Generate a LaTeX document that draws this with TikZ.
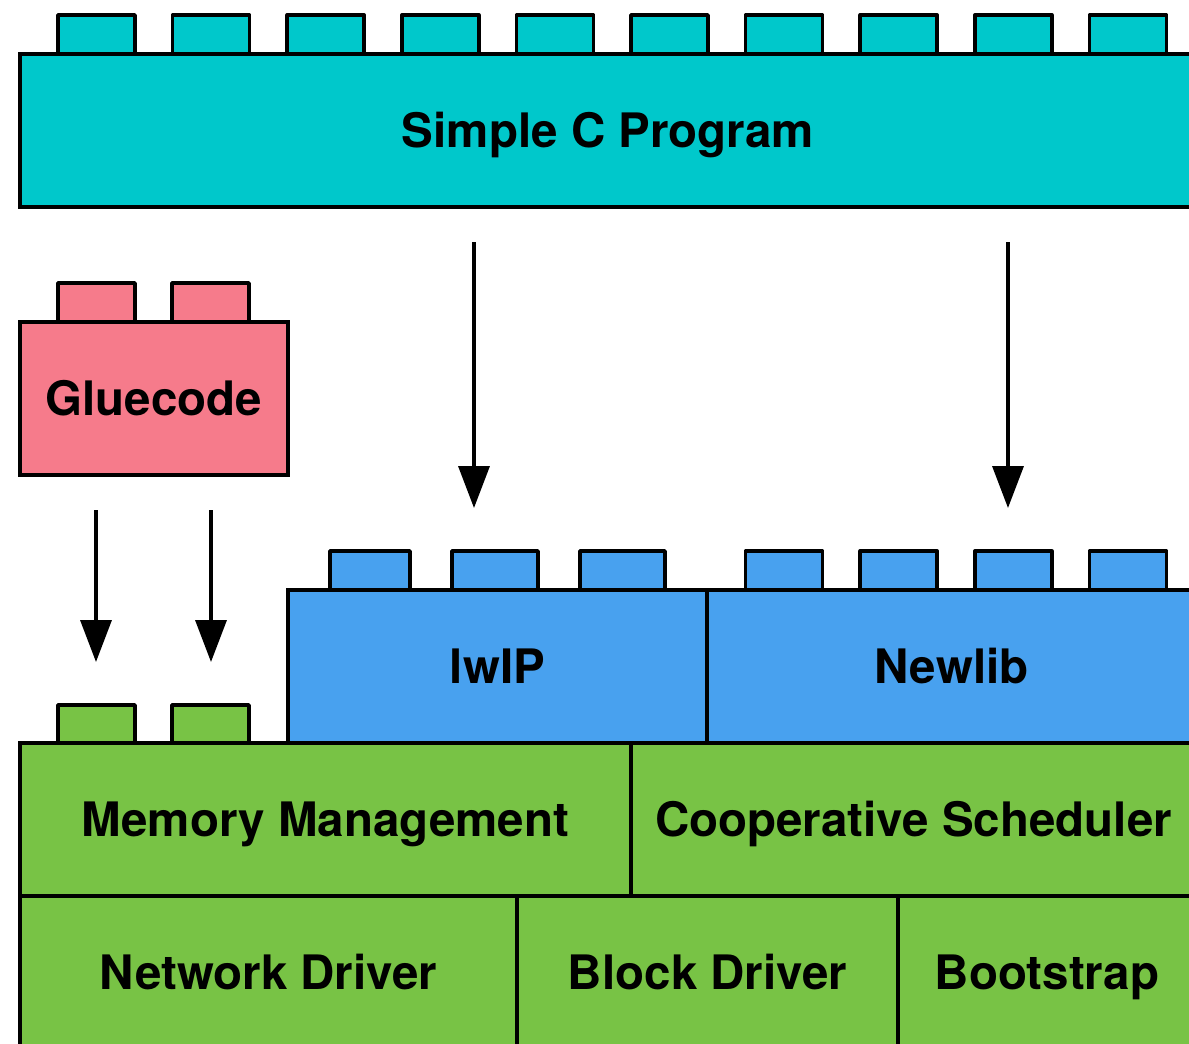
\documentclass[tikz,border=0pt]{standalone}
\usepackage{fontspec}
\setmainfont{TeX Gyre Heros}
\usepackage{tikz}
\usetikzlibrary{calc}
\usetikzlibrary{arrows.meta}
\definecolor{progcyan}{RGB}{0,200,203}
\definecolor{gluepink}{RGB}{246,123,139}
\definecolor{libblue}{RGB}{72,161,239}
\definecolor{basegreen}{RGB}{120,195,69}
\newcommand{\stud}[5]{\filldraw[#5, draw=black, line width=3.5pt, line join=round] ( #1 , #2 ) rectangle ( #3 , #4 );}
\newcommand{\brick}[7]{\node[brick, fill=#5, minimum width={#3-#1}, minimum height={#4-#2}] (#6) at ({(#1+#3)/2},{(#2+#4)/2}) {#7};}
\tikzset{
  brick/.style={draw, line width=3.5pt, inner sep=0pt, outer sep=0pt, text=black,
    text height=33pt, text depth=0pt, font=\fontsize{47.5}{52}\selectfont\bfseries},
  uses/.style={line width=3.5pt, -{Triangle[width=31pt,length=42pt]}},
}

\begin{document}
\begin{tikzpicture}[x=1pt, y=-1pt]
    \clip (0,0) rectangle (1189,1044);

    \foreach \i in {0,...,9} { \( \stud{58+114.6*\i}{15}{135+114.6*\i}{54}{progcyan} \); }
    \( \stud{58}{283}{135}{322}{gluepink} \);
    \( \stud{172}{283}{249}{322}{gluepink} \);
    \( \stud{330}{551}{410}{590}{libblue} \);
    \( \stud{452}{551}{538}{590}{libblue} \);
    \( \stud{580}{551}{665}{590}{libblue} \);
    \foreach \i in {6,...,9} { \( \stud{58+114.6*\i}{551}{135+114.6*\i}{590}{libblue} \); }
    \( \stud{58}{705}{135}{743}{basegreen} \);
    \( \stud{172}{705}{249}{743}{basegreen} \);

    \( \brick{20}{54}{1196}{207}{progcyan}{prog}{Simple C Program} \);
    \( \brick{20}{322}{288}{475}{gluepink}{glue}{Gluecode} \);
    \( \brick{288}{590}{707}{743}{libblue}{lwip}{lwIP} \);
    \( \brick{707}{590}{1196}{743}{libblue}{newlib}{Newlib} \);
    \( \brick{20}{743}{631}{896}{basegreen}{mem}{Memory Management} \);
    \( \brick{631}{743}{1196}{896}{basegreen}{sched}{Cooperative Scheduler} \);
    \( \brick{20}{896}{517}{1049}{basegreen}{net}{Network Driver} \);
    \( \brick{517}{896}{898}{1049}{basegreen}{blk}{Block Driver} \);
    \( \brick{898}{896}{1196}{1049}{basegreen}{boot}{Bootstrap} \);

    \coordinate (g1) at (96,0);
    \coordinate (g2) at (211,0);
    \coordinate (p1) at (474,0);
    \coordinate (p2) at (1008,0);
    \draw[uses, shorten <=35pt, shorten >=81pt] (glue.south -| g1) -- (mem.north -| g1);
    \draw[uses, shorten <=35pt, shorten >=81pt] (glue.south -| g2) -- (mem.north -| g2);
    \draw[uses, shorten <=35pt, shorten >=82pt] (prog.south -| p1) -- (lwip.north -| p1);
    \draw[uses, shorten <=35pt, shorten >=82pt] (prog.south -| p2) -- (newlib.north -| p2);
\end{tikzpicture}
\end{document}
